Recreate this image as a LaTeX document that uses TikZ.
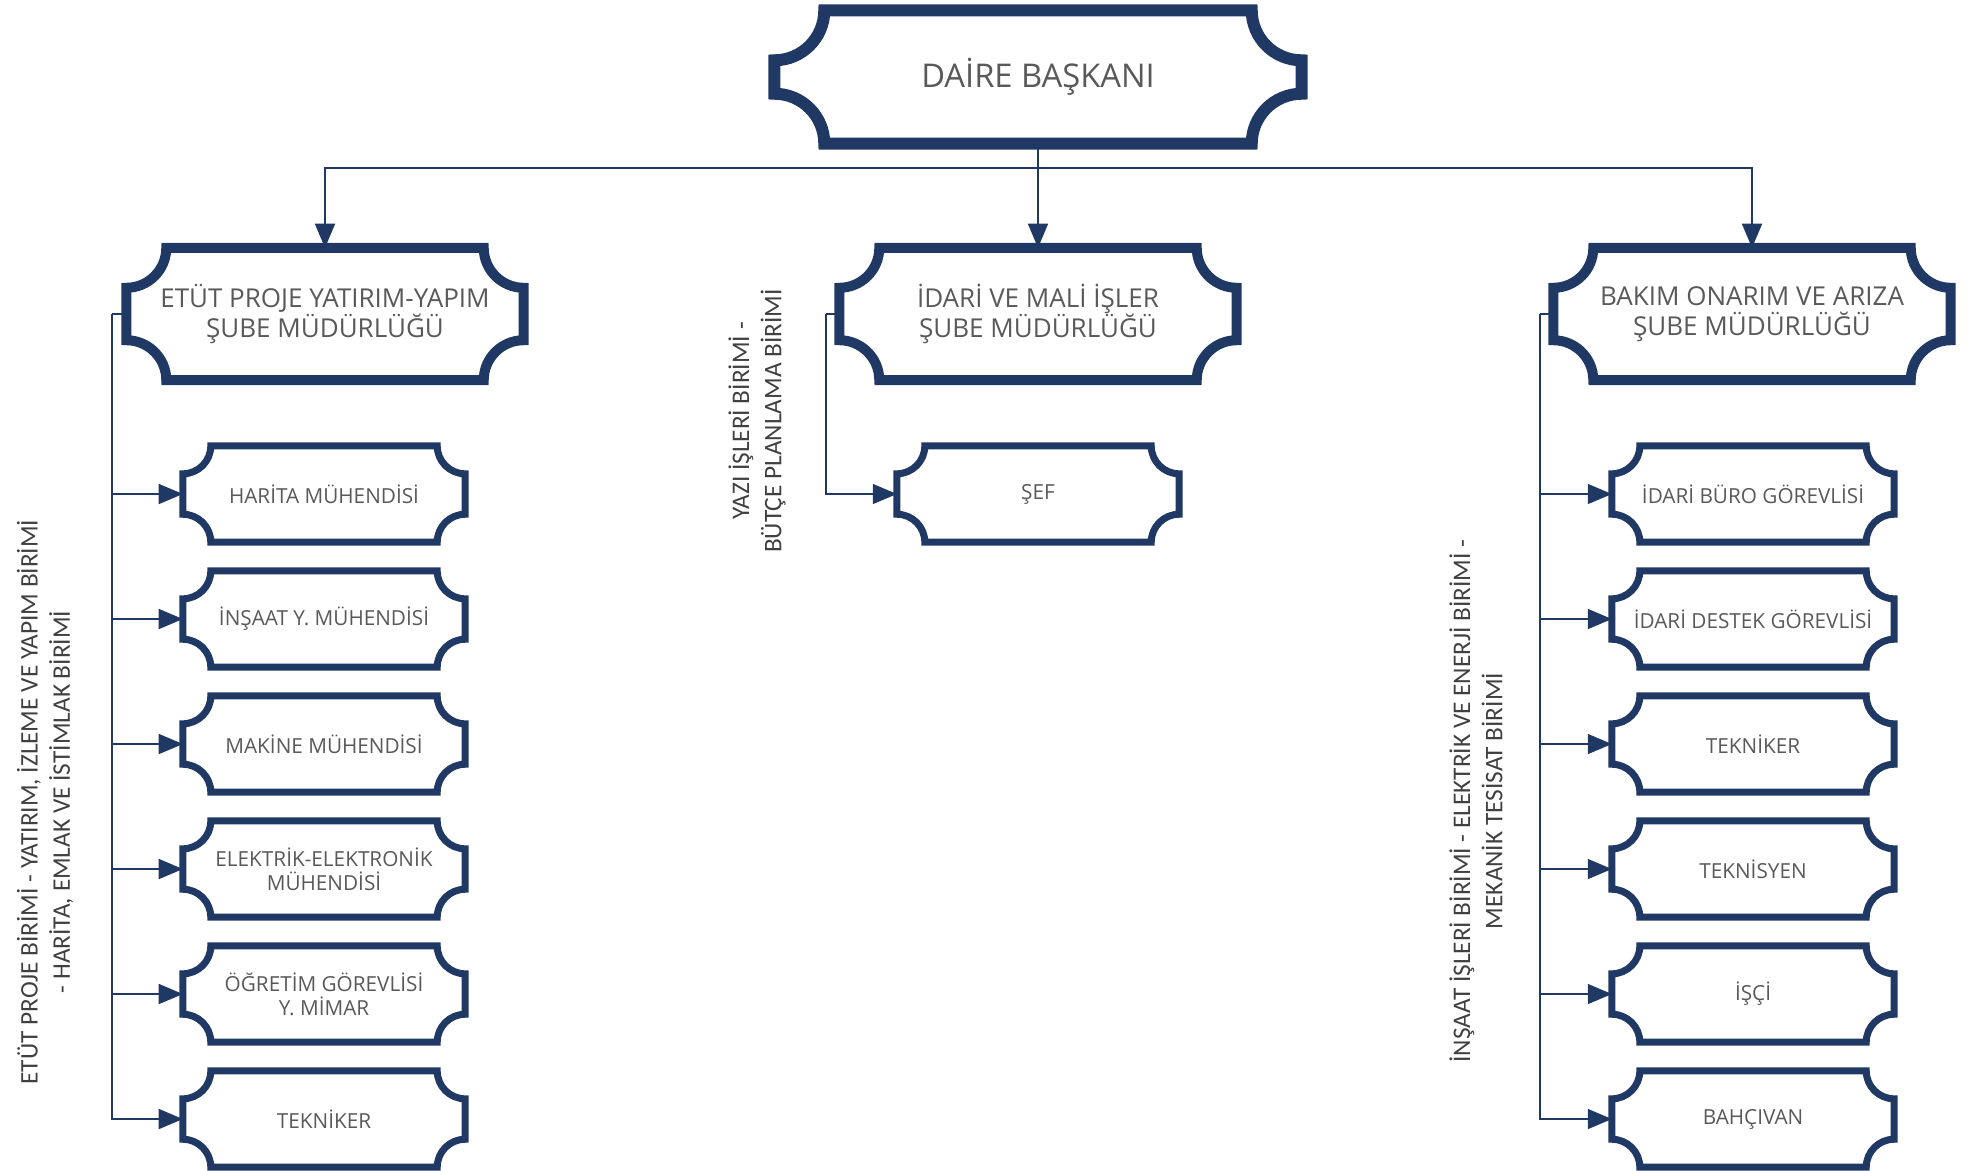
\documentclass[tikz,border=0pt]{standalone}
\usepackage{fontspec}
\setmainfont{Open Sans}
\newfontfamily\unitfont{Carlito}
\usepackage{tikz}
\usetikzlibrary{arrows}
\definecolor{navy}{HTML}{1F3864}
\definecolor{boxtext}{HTML}{595959}
\definecolor{unittext}{HTML}{404040}
\tikzset{
every node/.style={inner sep=0pt, align=center, text=boxtext},
chief/.style={minimum width=52.6mm, minimum height=13.2mm, font=\fontsize{9.3}{11}\selectfont},
office/.style={minimum width=39.6mm, minimum height=13.1mm, font=\fontsize{7.4}{8.6}\selectfont},
staff/.style={minimum width=28.1mm, minimum height=9.5mm, font=\fontsize{5.9}{6.7}\selectfont},
unit/.style={rotate=90, text=unittext, font=\unitfont\fontsize{7.2}{9.2}\selectfont},
bus/.style={draw=navy, line width=0.55pt},
link/.style={draw=navy, line width=0.55pt, -triangle 45}
}
% frame with hollow corners round a node: name, corner radius, line width
\newcommand{\plaque}[3]{%
\draw[navy, line width=#3, line join=miter]
  ([xshift=#2]#1.north west) -- ([xshift=-#2]#1.north east)
  arc[start angle=180, end angle=270, radius=#2]
  -- ([yshift=#2]#1.south east)
  arc[start angle=90, end angle=180, radius=#2]
  -- ([xshift=#2]#1.south west)
  arc[start angle=0, end angle=90, radius=#2]
  -- ([yshift=-#2]#1.north west)
  arc[start angle=270, end angle=360, radius=#2]
  -- cycle;}

\begin{document}
\begin{tikzpicture}[x=0.1mm, y=-0.1mm]
\useasboundingbox (0,0) rectangle (1968,1170);

\node [chief] (head) at (1038,77) {DAİRE BAŞKANI};

\node [office] (etut) at (325,314) {ETÜT PROJE YATIRIM-YAPIM\\ŞUBE MÜDÜRLÜĞÜ};
\node [office] (idari) at (1038,314) {İDARİ VE MALİ İŞLER\\ŞUBE MÜDÜRLÜĞÜ};
\node [office] (bakim) at (1752,314) {BAKIM ONARIM VE ARIZA\\ŞUBE MÜDÜRLÜĞÜ};

\node [staff] (harita) at (324,494) {HARİTA MÜHENDİSİ};
\node [staff] (insaat) at (324,619) {İNŞAAT Y. MÜHENDİSİ};
\node [staff] (makine) at (324,744) {MAKİNE MÜHENDİSİ};
\node [staff] (elektrik) at (324,869) {ELEKTRİK-ELEKTRONİK\\MÜHENDİSİ};
\node [staff] (ogretim) at (324,994) {ÖĞRETİM GÖREVLİSİ\\Y. MİMAR};
\node [staff] (teknikerL) at (324,1119) {TEKNİKER};

\node [staff] (sef) at (1038,494) {ŞEF};

\node [staff] (buro) at (1753,494) {İDARİ BÜRO GÖREVLİSİ};
\node [staff] (destek) at (1753,619) {İDARİ DESTEK GÖREVLİSİ};
\node [staff] (teknikerR) at (1753,744) {TEKNİKER};
\node [staff] (teknisyen) at (1753,869) {TEKNİSYEN};
\node [staff] (isci) at (1753,994) {İŞÇİ};
\node [staff] (bahcivan) at (1753,1119) {BAHÇIVAN};

\node [unit] (etutunits) at (45,802) {ETÜT PROJE BİRİMİ - YATIRIM, İZLEME VE YAPIM BİRİMİ\\- HARİTA, EMLAK VE İSTİMLAK BİRİMİ};
\node [unit] (idariunits) at (757,421) {YAZI İŞLERİ BİRİMİ -\\BÜTÇE PLANLAMA BİRİMİ};
\node [unit] (bakimunits) at (1476,801) {İNŞAAT İŞLERİ BİRİMİ - ELEKTRİK VE ENERJİ BİRİMİ -\\MEKANİK TESİSAT BİRİMİ};

\plaque{head}{5mm}{1.2mm}
\plaque{etut}{4mm}{1mm}
\plaque{idari}{4mm}{1mm}
\plaque{bakim}{4mm}{1mm}
\plaque{harita}{2.8mm}{0.7mm}
\plaque{insaat}{2.8mm}{0.7mm}
\plaque{makine}{2.8mm}{0.7mm}
\plaque{elektrik}{2.8mm}{0.7mm}
\plaque{ogretim}{2.8mm}{0.7mm}
\plaque{teknikerL}{2.8mm}{0.7mm}
\plaque{sef}{2.8mm}{0.7mm}
\plaque{buro}{2.8mm}{0.7mm}
\plaque{destek}{2.8mm}{0.7mm}
\plaque{teknikerR}{2.8mm}{0.7mm}
\plaque{teknisyen}{2.8mm}{0.7mm}
\plaque{isci}{2.8mm}{0.7mm}
\plaque{bahcivan}{2.8mm}{0.7mm}

\coordinate (split) at (1038,168);
\draw[bus] (head.south) -- (split);
\draw[link] (split) -| (etut.north);
\draw[link] (split) -- (idari.north);
\draw[link] (split) -| (bakim.north);

\coordinate (etutbus) at (112,314);
\draw[bus] (etut.west) -- (etutbus);
\draw[link] (etutbus) |- (harita.west);
\draw[link] (etutbus) |- (insaat.west);
\draw[link] (etutbus) |- (makine.west);
\draw[link] (etutbus) |- (elektrik.west);
\draw[link] (etutbus) |- (ogretim.west);
\draw[link] (etutbus) |- (teknikerL.west);

\coordinate (idaribus) at (826,314);
\draw[bus] (idari.west) -- (idaribus);
\draw[link] (idaribus) |- (sef.west);

\coordinate (bakimbus) at (1540,314);
\draw[bus] (bakim.west) -- (bakimbus);
\draw[link] (bakimbus) |- (buro.west);
\draw[link] (bakimbus) |- (destek.west);
\draw[link] (bakimbus) |- (teknikerR.west);
\draw[link] (bakimbus) |- (teknisyen.west);
\draw[link] (bakimbus) |- (isci.west);
\draw[link] (bakimbus) |- (bahcivan.west);
\end{tikzpicture}
\end{document}
